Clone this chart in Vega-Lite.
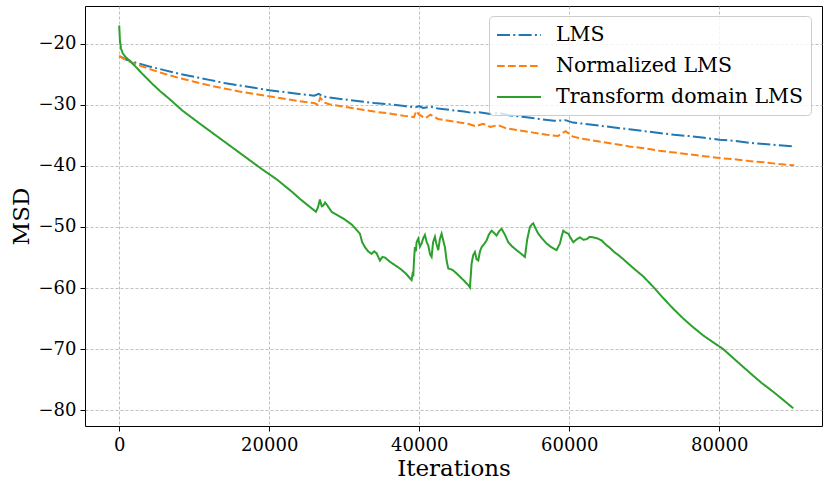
{
  "$schema": "https://vega.github.io/schema/vega-lite/v6.json",
  "width": 737,
  "height": 420,
  "autosize": {"type": "none"},
  "padding": {"left": 85, "top": 6, "right": 1, "bottom": 55},
  "background": "white",
  "config": {
    "font": "DejaVu Serif",
    "view": {"stroke": "#000000", "strokeWidth": 1},
    "axis": {
      "domain": false,
      "grid": true,
      "gridColor": "#b0b0b0",
      "gridDash": [3, 2],
      "gridWidth": 0.8,
      "tickColor": "#000000",
      "tickSize": 5,
      "tickWidth": 1,
      "labelFont": "DejaVu Serif",
      "labelFontSize": 18,
      "labelColor": "#000000",
      "titleFont": "DejaVu Serif",
      "titleFontSize": 23,
      "titleFontWeight": "normal",
      "titleColor": "#000000"
    },
    "legend": {
      "orient": "none",
      "legendX": 404,
      "legendY": 10,
      "symbolType": "M-1,0H3",
      "symbolSize": 484,
      "symbolStrokeWidth": 2,
      "labelFont": "DejaVu Serif",
      "labelFontSize": 20.5,
      "labelColor": "#000000",
      "labelLimit": 0,
      "labelOffset": 36,
      "rowPadding": 8,
      "padding": 7,
      "fillColor": "rgba(255,255,255,0.8)",
      "strokeColor": "#cccccc",
      "cornerRadius": 4
    }
  },
  "datasets": {
    "msd": [
      {"iter": 0, "msd": -22.0, "series": "LMS"},
      {"iter": 1000, "msd": -22.6, "series": "LMS"},
      {"iter": 2000, "msd": -23.0, "series": "LMS"},
      {"iter": 4000, "msd": -23.7, "series": "LMS"},
      {"iter": 6000, "msd": -24.3, "series": "LMS"},
      {"iter": 8000, "msd": -24.9, "series": "LMS"},
      {"iter": 10000, "msd": -25.4, "series": "LMS"},
      {"iter": 12000, "msd": -25.9, "series": "LMS"},
      {"iter": 14000, "msd": -26.4, "series": "LMS"},
      {"iter": 16000, "msd": -26.8, "series": "LMS"},
      {"iter": 18000, "msd": -27.2, "series": "LMS"},
      {"iter": 20000, "msd": -27.6, "series": "LMS"},
      {"iter": 22000, "msd": -27.9, "series": "LMS"},
      {"iter": 24000, "msd": -28.2, "series": "LMS"},
      {"iter": 26000, "msd": -28.5, "series": "LMS"},
      {"iter": 26600, "msd": -28.2, "series": "LMS"},
      {"iter": 27200, "msd": -28.6, "series": "LMS"},
      {"iter": 28000, "msd": -28.8, "series": "LMS"},
      {"iter": 30000, "msd": -29.1, "series": "LMS"},
      {"iter": 32000, "msd": -29.4, "series": "LMS"},
      {"iter": 34000, "msd": -29.7, "series": "LMS"},
      {"iter": 36000, "msd": -29.9, "series": "LMS"},
      {"iter": 38000, "msd": -30.2, "series": "LMS"},
      {"iter": 39500, "msd": -30.4, "series": "LMS"},
      {"iter": 40000, "msd": -30.2, "series": "LMS"},
      {"iter": 40500, "msd": -30.5, "series": "LMS"},
      {"iter": 41500, "msd": -30.3, "series": "LMS"},
      {"iter": 42500, "msd": -30.6, "series": "LMS"},
      {"iter": 44000, "msd": -30.8, "series": "LMS"},
      {"iter": 46000, "msd": -31.1, "series": "LMS"},
      {"iter": 47000, "msd": -31.3, "series": "LMS"},
      {"iter": 48000, "msd": -31.2, "series": "LMS"},
      {"iter": 49500, "msd": -31.5, "series": "LMS"},
      {"iter": 50500, "msd": -31.3, "series": "LMS"},
      {"iter": 52000, "msd": -31.7, "series": "LMS"},
      {"iter": 54000, "msd": -32.0, "series": "LMS"},
      {"iter": 56000, "msd": -32.3, "series": "LMS"},
      {"iter": 58000, "msd": -32.6, "series": "LMS"},
      {"iter": 59500, "msd": -32.5, "series": "LMS"},
      {"iter": 60500, "msd": -32.9, "series": "LMS"},
      {"iter": 62000, "msd": -33.1, "series": "LMS"},
      {"iter": 64000, "msd": -33.4, "series": "LMS"},
      {"iter": 66000, "msd": -33.7, "series": "LMS"},
      {"iter": 68000, "msd": -34.0, "series": "LMS"},
      {"iter": 70000, "msd": -34.3, "series": "LMS"},
      {"iter": 72000, "msd": -34.6, "series": "LMS"},
      {"iter": 74000, "msd": -34.9, "series": "LMS"},
      {"iter": 76000, "msd": -35.1, "series": "LMS"},
      {"iter": 78000, "msd": -35.4, "series": "LMS"},
      {"iter": 80000, "msd": -35.7, "series": "LMS"},
      {"iter": 82000, "msd": -35.9, "series": "LMS"},
      {"iter": 84000, "msd": -36.2, "series": "LMS"},
      {"iter": 86000, "msd": -36.4, "series": "LMS"},
      {"iter": 88000, "msd": -36.6, "series": "LMS"},
      {"iter": 90000, "msd": -36.8, "series": "LMS"},

      {"iter": 0, "msd": -22.0, "series": "Normalized LMS"},
      {"iter": 1000, "msd": -22.7, "series": "Normalized LMS"},
      {"iter": 2000, "msd": -23.2, "series": "Normalized LMS"},
      {"iter": 4000, "msd": -24.1, "series": "Normalized LMS"},
      {"iter": 6000, "msd": -24.9, "series": "Normalized LMS"},
      {"iter": 8000, "msd": -25.6, "series": "Normalized LMS"},
      {"iter": 10000, "msd": -26.2, "series": "Normalized LMS"},
      {"iter": 12000, "msd": -26.8, "series": "Normalized LMS"},
      {"iter": 14000, "msd": -27.3, "series": "Normalized LMS"},
      {"iter": 16000, "msd": -27.8, "series": "Normalized LMS"},
      {"iter": 18000, "msd": -28.2, "series": "Normalized LMS"},
      {"iter": 20000, "msd": -28.6, "series": "Normalized LMS"},
      {"iter": 22000, "msd": -29.0, "series": "Normalized LMS"},
      {"iter": 24000, "msd": -29.4, "series": "Normalized LMS"},
      {"iter": 26000, "msd": -29.7, "series": "Normalized LMS"},
      {"iter": 26500, "msd": -30.0, "series": "Normalized LMS"},
      {"iter": 26800, "msd": -28.8, "series": "Normalized LMS"},
      {"iter": 27300, "msd": -29.6, "series": "Normalized LMS"},
      {"iter": 28000, "msd": -29.9, "series": "Normalized LMS"},
      {"iter": 30000, "msd": -30.3, "series": "Normalized LMS"},
      {"iter": 32000, "msd": -30.7, "series": "Normalized LMS"},
      {"iter": 34000, "msd": -31.1, "series": "Normalized LMS"},
      {"iter": 36000, "msd": -31.4, "series": "Normalized LMS"},
      {"iter": 38000, "msd": -31.8, "series": "Normalized LMS"},
      {"iter": 39300, "msd": -32.0, "series": "Normalized LMS"},
      {"iter": 39600, "msd": -31.0, "series": "Normalized LMS"},
      {"iter": 40000, "msd": -31.6, "series": "Normalized LMS"},
      {"iter": 40800, "msd": -32.2, "series": "Normalized LMS"},
      {"iter": 41500, "msd": -31.6, "series": "Normalized LMS"},
      {"iter": 42500, "msd": -32.3, "series": "Normalized LMS"},
      {"iter": 43500, "msd": -32.5, "series": "Normalized LMS"},
      {"iter": 45000, "msd": -32.8, "series": "Normalized LMS"},
      {"iter": 46500, "msd": -33.1, "series": "Normalized LMS"},
      {"iter": 47500, "msd": -33.5, "series": "Normalized LMS"},
      {"iter": 48500, "msd": -33.1, "series": "Normalized LMS"},
      {"iter": 49500, "msd": -33.6, "series": "Normalized LMS"},
      {"iter": 50500, "msd": -33.3, "series": "Normalized LMS"},
      {"iter": 51500, "msd": -33.8, "series": "Normalized LMS"},
      {"iter": 53000, "msd": -34.1, "series": "Normalized LMS"},
      {"iter": 55000, "msd": -34.5, "series": "Normalized LMS"},
      {"iter": 57000, "msd": -34.9, "series": "Normalized LMS"},
      {"iter": 58500, "msd": -35.1, "series": "Normalized LMS"},
      {"iter": 59500, "msd": -34.3, "series": "Normalized LMS"},
      {"iter": 60500, "msd": -35.2, "series": "Normalized LMS"},
      {"iter": 62000, "msd": -35.6, "series": "Normalized LMS"},
      {"iter": 64000, "msd": -36.0, "series": "Normalized LMS"},
      {"iter": 66000, "msd": -36.4, "series": "Normalized LMS"},
      {"iter": 68000, "msd": -36.8, "series": "Normalized LMS"},
      {"iter": 70000, "msd": -37.1, "series": "Normalized LMS"},
      {"iter": 72000, "msd": -37.5, "series": "Normalized LMS"},
      {"iter": 74000, "msd": -37.8, "series": "Normalized LMS"},
      {"iter": 76000, "msd": -38.1, "series": "Normalized LMS"},
      {"iter": 78000, "msd": -38.4, "series": "Normalized LMS"},
      {"iter": 80000, "msd": -38.7, "series": "Normalized LMS"},
      {"iter": 82000, "msd": -38.9, "series": "Normalized LMS"},
      {"iter": 84000, "msd": -39.2, "series": "Normalized LMS"},
      {"iter": 86000, "msd": -39.4, "series": "Normalized LMS"},
      {"iter": 88000, "msd": -39.7, "series": "Normalized LMS"},
      {"iter": 90000, "msd": -39.9, "series": "Normalized LMS"},

      {"iter": 0, "msd": -17.0, "series": "Transform domain LMS"},
      {"iter": 100, "msd": -19.5, "series": "Transform domain LMS"},
      {"iter": 250, "msd": -20.8, "series": "Transform domain LMS"},
      {"iter": 450, "msd": -21.5, "series": "Transform domain LMS"},
      {"iter": 800, "msd": -22.1, "series": "Transform domain LMS"},
      {"iter": 1330, "msd": -22.7, "series": "Transform domain LMS"},
      {"iter": 2000, "msd": -23.5, "series": "Transform domain LMS"},
      {"iter": 3000, "msd": -24.8, "series": "Transform domain LMS"},
      {"iter": 4450, "msd": -26.6, "series": "Transform domain LMS"},
      {"iter": 5500, "msd": -27.8, "series": "Transform domain LMS"},
      {"iter": 6670, "msd": -29.0, "series": "Transform domain LMS"},
      {"iter": 8500, "msd": -31.0, "series": "Transform domain LMS"},
      {"iter": 10890, "msd": -33.2, "series": "Transform domain LMS"},
      {"iter": 13000, "msd": -35.1, "series": "Transform domain LMS"},
      {"iter": 15000, "msd": -36.9, "series": "Transform domain LMS"},
      {"iter": 17000, "msd": -38.7, "series": "Transform domain LMS"},
      {"iter": 19000, "msd": -40.5, "series": "Transform domain LMS"},
      {"iter": 21000, "msd": -42.2, "series": "Transform domain LMS"},
      {"iter": 23000, "msd": -44.2, "series": "Transform domain LMS"},
      {"iter": 24100, "msd": -45.4, "series": "Transform domain LMS"},
      {"iter": 25200, "msd": -46.5, "series": "Transform domain LMS"},
      {"iter": 26227, "msd": -47.5, "series": "Transform domain LMS"},
      {"iter": 26500, "msd": -46.8, "series": "Transform domain LMS"},
      {"iter": 26760, "msd": -45.5, "series": "Transform domain LMS"},
      {"iter": 27000, "msd": -46.6, "series": "Transform domain LMS"},
      {"iter": 27204, "msd": -46.5, "series": "Transform domain LMS"},
      {"iter": 27450, "msd": -46.0, "series": "Transform domain LMS"},
      {"iter": 27649, "msd": -46.3, "series": "Transform domain LMS"},
      {"iter": 28316, "msd": -47.5, "series": "Transform domain LMS"},
      {"iter": 29871, "msd": -48.6, "series": "Transform domain LMS"},
      {"iter": 31000, "msd": -49.6, "series": "Transform domain LMS"},
      {"iter": 32093, "msd": -51.1, "series": "Transform domain LMS"},
      {"iter": 32400, "msd": -52.5, "series": "Transform domain LMS"},
      {"iter": 32760, "msd": -53.3, "series": "Transform domain LMS"},
      {"iter": 33200, "msd": -54.0, "series": "Transform domain LMS"},
      {"iter": 33649, "msd": -54.4, "series": "Transform domain LMS"},
      {"iter": 34000, "msd": -54.0, "series": "Transform domain LMS"},
      {"iter": 34316, "msd": -54.3, "series": "Transform domain LMS"},
      {"iter": 34760, "msd": -55.5, "series": "Transform domain LMS"},
      {"iter": 35100, "msd": -54.9, "series": "Transform domain LMS"},
      {"iter": 35427, "msd": -55.0, "series": "Transform domain LMS"},
      {"iter": 36093, "msd": -55.7, "series": "Transform domain LMS"},
      {"iter": 36700, "msd": -56.2, "series": "Transform domain LMS"},
      {"iter": 37427, "msd": -56.8, "series": "Transform domain LMS"},
      {"iter": 38200, "msd": -57.6, "series": "Transform domain LMS"},
      {"iter": 38982, "msd": -58.7, "series": "Transform domain LMS"},
      {"iter": 39100, "msd": -57.8, "series": "Transform domain LMS"},
      {"iter": 39204, "msd": -58.1, "series": "Transform domain LMS"},
      {"iter": 39300, "msd": -55.5, "series": "Transform domain LMS"},
      {"iter": 39427, "msd": -53.3, "series": "Transform domain LMS"},
      {"iter": 39550, "msd": -54.0, "series": "Transform domain LMS"},
      {"iter": 39650, "msd": -52.5, "series": "Transform domain LMS"},
      {"iter": 39871, "msd": -51.9, "series": "Transform domain LMS"},
      {"iter": 40100, "msd": -53.2, "series": "Transform domain LMS"},
      {"iter": 40316, "msd": -52.7, "series": "Transform domain LMS"},
      {"iter": 40550, "msd": -51.8, "series": "Transform domain LMS"},
      {"iter": 40760, "msd": -51.3, "series": "Transform domain LMS"},
      {"iter": 41000, "msd": -52.5, "series": "Transform domain LMS"},
      {"iter": 41204, "msd": -53.0, "series": "Transform domain LMS"},
      {"iter": 41450, "msd": -54.5, "series": "Transform domain LMS"},
      {"iter": 41649, "msd": -54.9, "series": "Transform domain LMS"},
      {"iter": 41850, "msd": -52.5, "series": "Transform domain LMS"},
      {"iter": 42093, "msd": -51.6, "series": "Transform domain LMS"},
      {"iter": 42300, "msd": -52.8, "series": "Transform domain LMS"},
      {"iter": 42538, "msd": -53.8, "series": "Transform domain LMS"},
      {"iter": 42750, "msd": -52.0, "series": "Transform domain LMS"},
      {"iter": 42982, "msd": -51.1, "series": "Transform domain LMS"},
      {"iter": 43200, "msd": -52.2, "series": "Transform domain LMS"},
      {"iter": 43427, "msd": -53.3, "series": "Transform domain LMS"},
      {"iter": 43650, "msd": -55.5, "series": "Transform domain LMS"},
      {"iter": 43871, "msd": -56.8, "series": "Transform domain LMS"},
      {"iter": 44400, "msd": -57.0, "series": "Transform domain LMS"},
      {"iter": 44982, "msd": -57.6, "series": "Transform domain LMS"},
      {"iter": 45900, "msd": -58.7, "series": "Transform domain LMS"},
      {"iter": 46600, "msd": -59.6, "series": "Transform domain LMS"},
      {"iter": 46760, "msd": -59.9, "series": "Transform domain LMS"},
      {"iter": 46900, "msd": -57.5, "series": "Transform domain LMS"},
      {"iter": 46982, "msd": -56.0, "series": "Transform domain LMS"},
      {"iter": 47200, "msd": -54.6, "series": "Transform domain LMS"},
      {"iter": 47427, "msd": -54.1, "series": "Transform domain LMS"},
      {"iter": 47650, "msd": -55.3, "series": "Transform domain LMS"},
      {"iter": 47871, "msd": -55.5, "series": "Transform domain LMS"},
      {"iter": 48100, "msd": -54.0, "series": "Transform domain LMS"},
      {"iter": 48316, "msd": -53.3, "series": "Transform domain LMS"},
      {"iter": 48650, "msd": -52.8, "series": "Transform domain LMS"},
      {"iter": 48982, "msd": -52.2, "series": "Transform domain LMS"},
      {"iter": 49300, "msd": -51.2, "series": "Transform domain LMS"},
      {"iter": 49649, "msd": -50.6, "series": "Transform domain LMS"},
      {"iter": 50000, "msd": -51.0, "series": "Transform domain LMS"},
      {"iter": 50316, "msd": -51.4, "series": "Transform domain LMS"},
      {"iter": 50650, "msd": -50.7, "series": "Transform domain LMS"},
      {"iter": 50982, "msd": -50.3, "series": "Transform domain LMS"},
      {"iter": 51400, "msd": -51.2, "series": "Transform domain LMS"},
      {"iter": 51871, "msd": -52.5, "series": "Transform domain LMS"},
      {"iter": 52400, "msd": -53.2, "series": "Transform domain LMS"},
      {"iter": 52982, "msd": -53.8, "series": "Transform domain LMS"},
      {"iter": 53500, "msd": -54.3, "series": "Transform domain LMS"},
      {"iter": 54093, "msd": -54.9, "series": "Transform domain LMS"},
      {"iter": 54400, "msd": -52.0, "series": "Transform domain LMS"},
      {"iter": 54760, "msd": -50.0, "series": "Transform domain LMS"},
      {"iter": 55000, "msd": -49.6, "series": "Transform domain LMS"},
      {"iter": 55204, "msd": -49.4, "series": "Transform domain LMS"},
      {"iter": 55500, "msd": -50.2, "series": "Transform domain LMS"},
      {"iter": 55871, "msd": -51.1, "series": "Transform domain LMS"},
      {"iter": 56400, "msd": -51.9, "series": "Transform domain LMS"},
      {"iter": 56982, "msd": -52.7, "series": "Transform domain LMS"},
      {"iter": 57600, "msd": -53.3, "series": "Transform domain LMS"},
      {"iter": 58316, "msd": -53.8, "series": "Transform domain LMS"},
      {"iter": 58550, "msd": -53.2, "series": "Transform domain LMS"},
      {"iter": 58760, "msd": -52.7, "series": "Transform domain LMS"},
      {"iter": 59000, "msd": -51.5, "series": "Transform domain LMS"},
      {"iter": 59204, "msd": -50.6, "series": "Transform domain LMS"},
      {"iter": 59500, "msd": -50.9, "series": "Transform domain LMS"},
      {"iter": 59871, "msd": -51.1, "series": "Transform domain LMS"},
      {"iter": 60200, "msd": -51.8, "series": "Transform domain LMS"},
      {"iter": 60538, "msd": -52.5, "series": "Transform domain LMS"},
      {"iter": 61000, "msd": -52.0, "series": "Transform domain LMS"},
      {"iter": 61427, "msd": -51.7, "series": "Transform domain LMS"},
      {"iter": 61900, "msd": -52.1, "series": "Transform domain LMS"},
      {"iter": 62316, "msd": -52.0, "series": "Transform domain LMS"},
      {"iter": 62750, "msd": -51.6, "series": "Transform domain LMS"},
      {"iter": 63204, "msd": -51.7, "series": "Transform domain LMS"},
      {"iter": 63800, "msd": -51.9, "series": "Transform domain LMS"},
      {"iter": 64316, "msd": -52.2, "series": "Transform domain LMS"},
      {"iter": 64800, "msd": -52.8, "series": "Transform domain LMS"},
      {"iter": 65400, "msd": -53.4, "series": "Transform domain LMS"},
      {"iter": 66000, "msd": -54.1, "series": "Transform domain LMS"},
      {"iter": 66760, "msd": -54.8, "series": "Transform domain LMS"},
      {"iter": 67500, "msd": -55.6, "series": "Transform domain LMS"},
      {"iter": 68700, "msd": -56.9, "series": "Transform domain LMS"},
      {"iter": 69867, "msd": -58.1, "series": "Transform domain LMS"},
      {"iter": 71200, "msd": -59.8, "series": "Transform domain LMS"},
      {"iter": 72500, "msd": -61.6, "series": "Transform domain LMS"},
      {"iter": 73800, "msd": -63.3, "series": "Transform domain LMS"},
      {"iter": 75200, "msd": -65.0, "series": "Transform domain LMS"},
      {"iter": 76500, "msd": -66.4, "series": "Transform domain LMS"},
      {"iter": 77900, "msd": -67.8, "series": "Transform domain LMS"},
      {"iter": 79200, "msd": -68.9, "series": "Transform domain LMS"},
      {"iter": 80533, "msd": -70.0, "series": "Transform domain LMS"},
      {"iter": 81700, "msd": -71.3, "series": "Transform domain LMS"},
      {"iter": 82900, "msd": -72.6, "series": "Transform domain LMS"},
      {"iter": 84093, "msd": -73.9, "series": "Transform domain LMS"},
      {"iter": 85600, "msd": -75.5, "series": "Transform domain LMS"},
      {"iter": 87200, "msd": -77.0, "series": "Transform domain LMS"},
      {"iter": 88500, "msd": -78.3, "series": "Transform domain LMS"},
      {"iter": 89867, "msd": -79.7, "series": "Transform domain LMS"}
    ]
  },
  "data": {"name": "msd"},
  "mark": {"type": "line", "strokeWidth": 2, "clip": true},
  "encoding": {
    "x": {
      "field": "iter",
      "type": "quantitative",
      "title": "Iterations",
      "scale": {"domain": [-4560, 93700], "nice": false, "zero": false},
      "axis": {
        "values": [0, 20000, 40000, 60000, 80000],
        "format": "d",
        "labelPadding": 5,
        "titlePadding": 3
      }
    },
    "y": {
      "field": "msd",
      "type": "quantitative",
      "title": "MSD",
      "scale": {"domain": [-82.6, -13.8], "nice": false, "zero": false},
      "axis": {
        "values": [-80, -70, -60, -50, -40, -30, -20],
        "format": "d",
        "labelPadding": 4,
        "titlePadding": 5
      }
    },
    "color": {
      "field": "series",
      "type": "nominal",
      "title": null,
      "scale": {
        "domain": ["LMS", "Normalized LMS", "Transform domain LMS"],
        "range": ["#1f77b4", "#ff7f0e", "#2ca02c"]
      }
    },
    "strokeDash": {
      "field": "series",
      "type": "nominal",
      "title": null,
      "scale": {
        "domain": ["LMS", "Normalized LMS", "Transform domain LMS"],
        "range": [[13, 3.3, 2, 3.3], [7.7, 3.3], [1, 0]]
      }
    }
  }
}
